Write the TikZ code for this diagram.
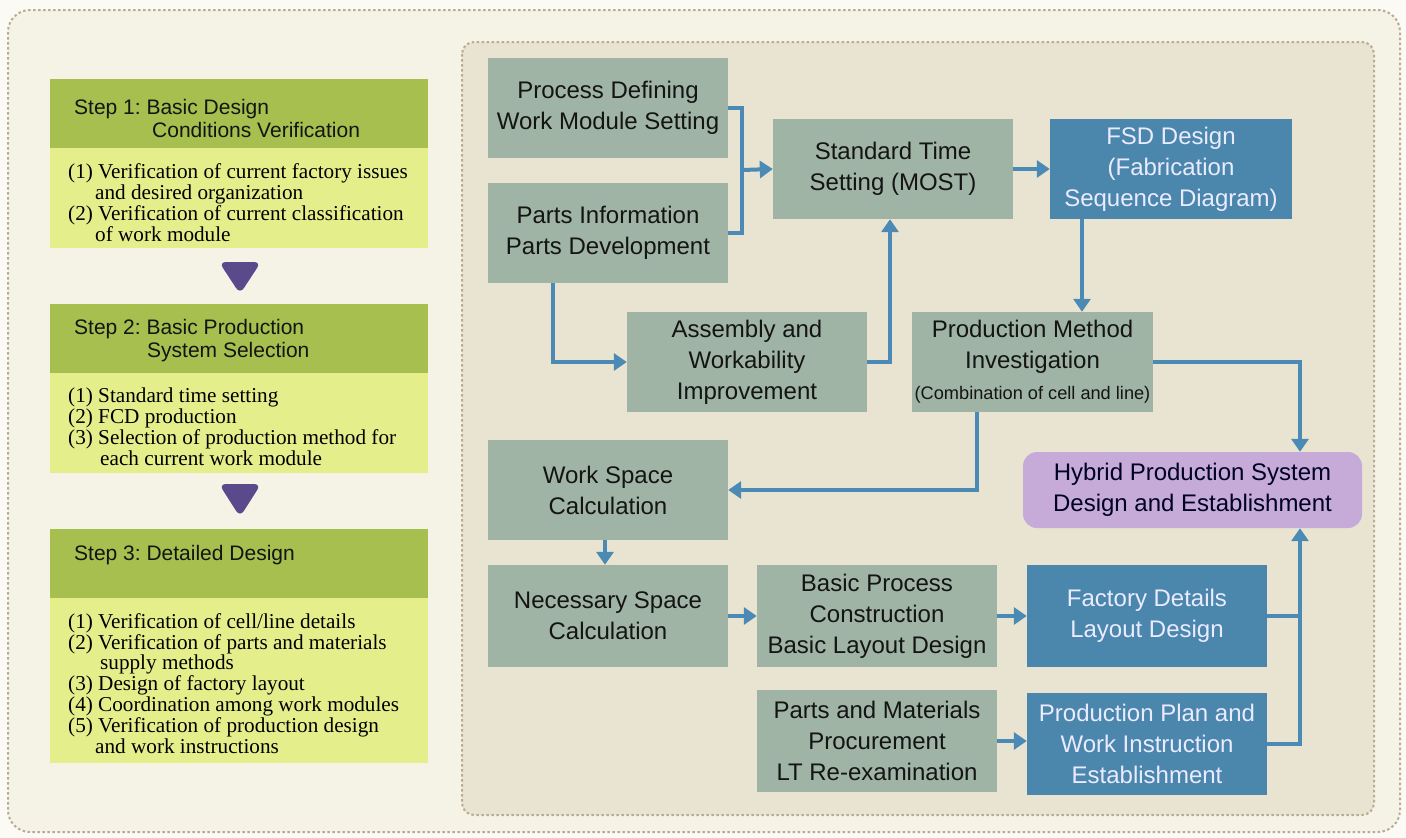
\documentclass[tikz,border=0pt]{standalone}
\usepackage{fontspec}
\setmainfont{Liberation Serif}
\setsansfont{Liberation Sans}
\usetikzlibrary{arrows.meta,calc}
\definecolor{outerbg}{HTML}{F5F2E6}
\definecolor{innerbg}{HTML}{E9E4D1}
\definecolor{framec}{HTML}{B9AC92}
\definecolor{gboxc}{HTML}{9FB4A4}
\definecolor{bboxc}{HTML}{4B87AD}
\definecolor{arrc}{HTML}{4A8AB4}
\definecolor{hdrc}{HTML}{A6BF4E}
\definecolor{bdyc}{HTML}{E4EF8C}
\definecolor{hybc}{HTML}{C6ABD9}
\definecolor{tric}{HTML}{5A4A8C}
\frenchspacing
\begin{document}
\begin{tikzpicture}[x=1pt,y=-1pt,
 greybox/.style={rectangle, fill=gboxc, minimum width=240pt, minimum height=100pt, align=center, font=\sffamily\fontsize{24}{31}\selectfont, text=black!92, inner sep=0pt},
 bluebox/.style={greybox, fill=bboxc, text=white!92!blue},
 conn/.style={draw=arrc, line width=4pt},
 flow/.style={conn, -{Triangle[width=17pt,length=13pt]}},
 hdrbox/.style={rectangle, fill=hdrc, minimum width=378pt, minimum height=69pt, inner sep=0pt},
 bdybox/.style={rectangle, fill=bdyc, minimum width=378pt, inner sep=0pt},
 hdrtext/.style={anchor=west, align=left, inner sep=0pt, font=\sffamily\fontsize{21}{23.5}\selectfont, text=black!92},
 bdytext/.style={anchor=west, align=left, inner sep=0pt, font=\fontsize{21.2}{20.9}\selectfont},
 frame/.style={draw=framec, line width=2pt, dash pattern=on 2.5pt off 2.5pt},
]
\useasboundingbox (0,0) rectangle (1406,838);
% frames
\fill[white!60!outerbg] (0,0) rectangle (1406,838);
\draw[frame, fill=outerbg, rounded corners=22pt] (8,10) rectangle (1400,832);
\draw[frame, fill=innerbg, rounded corners=12pt] (462,42) rectangle (1374,815);

% left column
\node[hdrbox] (h1) at (239,113.5) {};
\node[bdybox, minimum height=100pt] (b1) at (239,198) {};
\node[hdrbox] (h2) at (239,338) {};
\node[bdybox, minimum height=100pt] (b2) at (239,423) {};
\node[hdrbox] (h3) at (239,563) {};
\node[bdybox, minimum height=165pt] (b3) at (239,680.5) {};

\node[hdrtext] (ht1) at (74,118.5) {Step 1: Basic Design\\\hspace*{78pt}Conditions Verification};
\node[hdrtext] (ht2) at (74,340.5) {Step 2: Basic Production\\\hspace*{73pt}System Selection};
\node[hdrtext] (ht3) at (74,555) {Step 3: Detailed Design};

\node[bdytext] (bt1) at (68,202.5) {(1) Verification of current factory issues\\\hspace*{27pt}and desired organization\\(2) Verification of current classification\\\hspace*{27pt}of work module};
\node[bdytext] (bt2) at (68,427) {(1) Standard time setting\\(2) FCD production\\(3) Selection of production method for\\\hspace*{32pt}each current work module};
\node[bdytext] (bt3) at (68,683.5) {(1) Verification of cell/line details\\(2) Verification of parts and materials\\\hspace*{32pt}supply methods\\(3) Design of factory layout\\(4) Coordination among work modules\\(5) Verification of production design\\\hspace*{27pt}and work instructions};

\fill[tric, rounded corners=7pt] (219,262) -- (261,262) -- (240,294) -- cycle;
\fill[tric, rounded corners=7pt] (219,484) -- (261,484) -- (240,517) -- cycle;

% right boxes
\node[greybox] (pd) at (608,107.5) {Process Defining\\Work Module Setting};
\node[greybox] (pi) at (608,233) {Parts Information\\Parts Development};
\node[greybox] (st) at (893,169) {Standard Time\\Setting (MOST)};
\node[bluebox, minimum width=242pt] (fsd) at (1171,169) {FSD Design\\(Fabrication\\Sequence Diagram)};
\node[greybox] (asm) at (747,362) {Assembly and\\Workability\\Improvement};
\node[greybox, minimum width=241pt] (pm) at (1032.5,362) {Production Method\\Investigation\\{\fontsize{18.2}{20}\selectfont(Combination of cell and line)}};
\node[greybox] (ws) at (608,490) {Work Space\\Calculation};
\node[greybox, minimum height=102pt] (ns) at (608,616) {Necessary Space\\Calculation};
\node[greybox, minimum height=102pt] (bp) at (877,616) {Basic Process\\Construction\\Basic Layout Design};
\node[greybox, minimum height=102pt] (pmat) at (877,741) {Parts and Materials\\Procurement\\LT Re-examination};
\node[bluebox, minimum height=102pt] (fd) at (1147,616) {Factory Details\\Layout Design};
\node[bluebox, minimum height=102pt] (pp) at (1147,744) {Production Plan and\\Work Instruction\\Establishment};
\node[rectangle, rounded corners=14pt, fill=hybc, minimum width=339pt, minimum height=76pt, align=center, inner sep=0pt, font=\sffamily\fontsize{24}{31}\selectfont, text=black!85!blue] (hy) at (1192.5,490) {Hybrid Production System\\Design and Establishment};

% connectors
\coordinate (bx) at (742,170);
\draw[conn] (pd.east) -| (bx) |- (pi.east);
\draw[flow] (bx) -- (st.west);
\draw[flow] ([xshift=-55pt]pi.south) |- (asm.west);
\draw[flow] (asm.east) -| ([xshift=-3pt]st.south);
\draw[flow] (st.east) -- (fsd.west);
\draw[flow] ([xshift=-89pt]fsd.south) -- ([xshift=49.5pt]pm.north);
\coordinate (hn) at ([xshift=107.5pt]hy.north);
\coordinate (hs) at ([xshift=107.5pt]hy.south);
\draw[flow] (pm.east) -| (hn);
\draw[flow] ([xshift=-55.5pt]pm.south) |- (ws.east);
\draw[flow] ([xshift=-3pt]ws.south) -- ([xshift=-3pt]ns.north);
\draw[flow] (ns.east) -- (bp.west);
\draw[flow] (bp.east) -- (fd.west);
\draw[flow] (pmat.east) -- (pmat.east -| pp.west);
\draw[conn] (fd.east) -- (fd.east -| hs);
\draw[flow] (pp.east) -| (hs);
\end{tikzpicture}
\end{document}
